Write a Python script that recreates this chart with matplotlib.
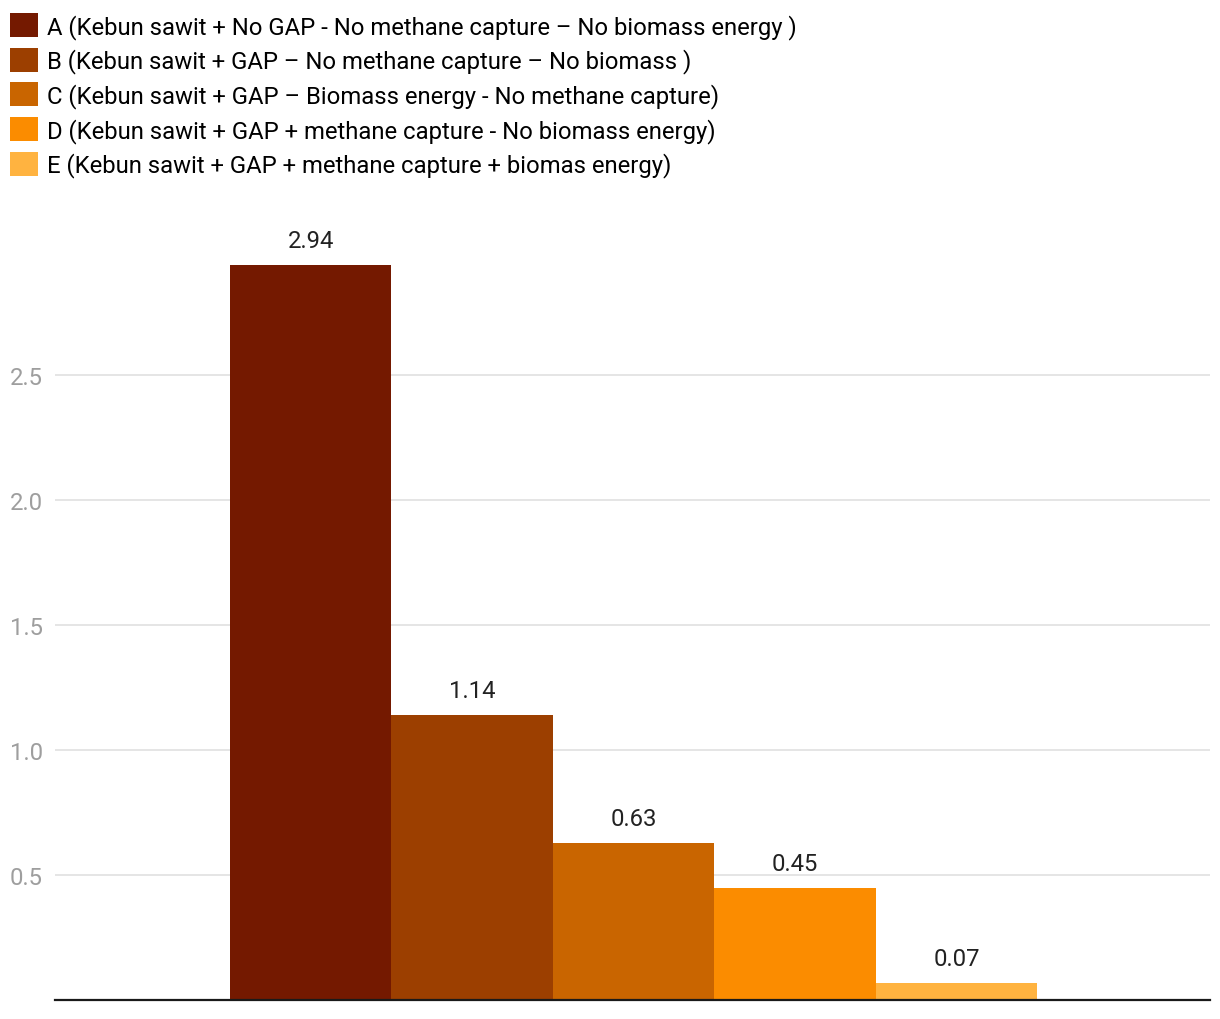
import matplotlib
matplotlib.use("Agg")
import matplotlib.pyplot as plt

plt.rcParams["font.family"] = ["Roboto", "DejaVu Sans"]

labels = [
    "A (Kebun sawit + No GAP - No methane capture \u2013 No biomass energy )",
    "B (Kebun sawit + GAP \u2013 No methane capture \u2013 No biomass )",
    "C (Kebun sawit + GAP \u2013 Biomass energy - No methane capture)",
    "D (Kebun sawit + GAP + methane capture - No biomass energy)",
    "E (Kebun sawit + GAP + methane capture + biomas energy)",
]
values = [2.94, 1.14, 0.63, 0.45, 0.07]
value_text = ["2.94", "1.14", "0.63", "0.45", "0.07"]
colors = ["#741900", "#9c3f00", "#c96500", "#fb8c00", "#ffb340"]
yticks = [0.5, 1.0, 1.5, 2.0, 2.5]

FS = 17.2
W, H = 1220, 1020
fig = plt.figure(figsize=(W / 100, H / 100), dpi=100)
ax = fig.add_axes([55 / W, 1 - 1001 / H, (1210 - 55) / W, (1001 - 251) / H])

handles = []
for i, (v, c, lab) in enumerate(zip(values, colors, labels)):
    b = ax.bar(i, v, width=1.0, color=c, label=lab, zorder=2)
    handles.append(b)
    ax.annotate(value_text[i], (i, v), xytext=(0, 17.5), textcoords="offset points",
                ha="center", va="center", fontsize=FS, color="#222222",
                annotation_clip=False)

ax.set_xlim(-1.584, 5.571)
ax.set_ylim(0, 3.0)
ax.set_xticks([])
ax.set_yticks(yticks)
ax.set_yticklabels([f"{t:.1f}" for t in yticks])
ax.tick_params(axis="y", length=0, pad=8.6, labelsize=FS, labelcolor="#9e9e9e")
ax.grid(axis="y", color="#e0e0e0", linewidth=1.2, zorder=0)
for s in ["left", "right", "top"]:
    ax.spines[s].set_visible(False)
ax.spines["bottom"].set_color("#1a1a1a")
ax.spines["bottom"].set_linewidth(1.6)
ax.spines["bottom"].set_zorder(3)

fig.legend(handles=handles, labels=labels, loc="upper left",
           bbox_to_anchor=(10 / W, 1 - 14 / H), frameon=False, fontsize=FS,
           handlelength=1.17, handleheight=1.17, handletextpad=0.38,
           labelspacing=0.38, borderpad=0, borderaxespad=0)

fig.savefig("out.png", dpi=100)
